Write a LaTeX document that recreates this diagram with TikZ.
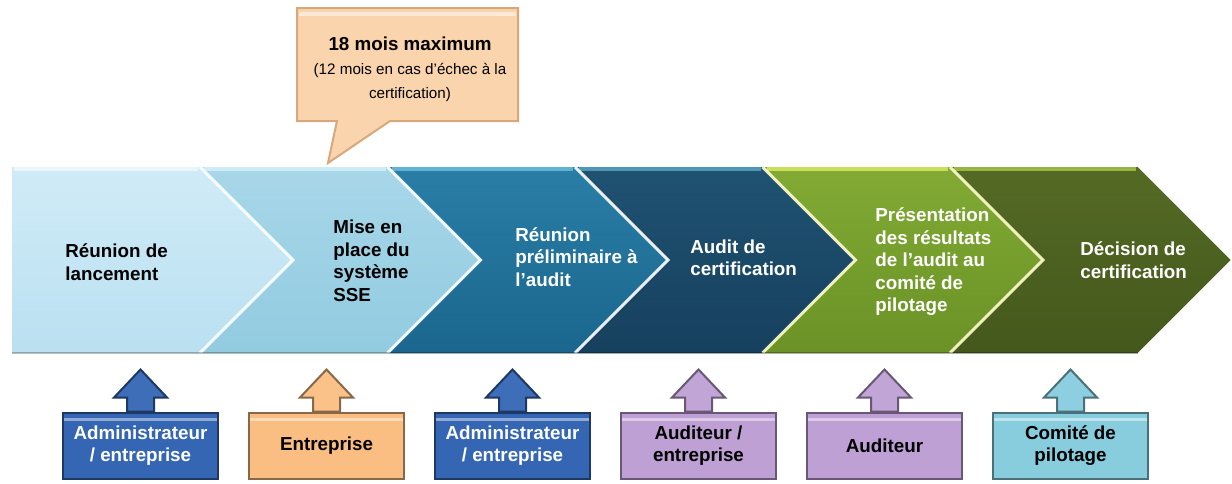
\documentclass[tikz,border=0pt]{standalone}
\usepackage{fontspec}
\setmainfont{Liberation Sans}
\usepackage{tikz}
\usetikzlibrary{calc,positioning}
\definecolor{chA}{RGB}{186,224,241}
\definecolor{chAt}{RGB}{208,235,247}
\definecolor{chB}{RGB}{146,203,224}
\definecolor{chBt}{RGB}{168,215,233}
\definecolor{chC}{RGB}{26,102,142}
\definecolor{chCt}{RGB}{42,126,166}
\definecolor{chD}{RGB}{22,64,94}
\definecolor{chDt}{RGB}{32,82,114}
\definecolor{chE}{RGB}{106,146,38}
\definecolor{chEt}{RGB}{130,170,52}
\definecolor{chF}{RGB}{68,88,28}
\definecolor{chFt}{RGB}{84,106,36}
\definecolor{hiA}{RGB}{235,246,251}
\definecolor{hiB}{RGB}{205,236,246}
\definecolor{hiC}{RGB}{96,178,208}
\definecolor{hiD}{RGB}{78,150,182}
\definecolor{hiE}{RGB}{200,222,92}
\definecolor{hiF}{RGB}{150,182,70}
\definecolor{admin}{RGB}{52,102,180}
\definecolor{entr}{RGB}{250,190,130}
\definecolor{audit}{RGB}{190,160,212}
\definecolor{comite}{RGB}{135,205,222}
\definecolor{bulle}{RGB}{250,212,172}
\definecolor{bullebord}{RGB}{214,168,124}
\newcommand{\monte}[2]{%
  \coordinate (#1t) at ($(#1.north)+(0,-42)$);
  \draw[fleche=#2] ($(#1.north)+(-13.5,0)$) -- ($(#1t)+(-13.5,28)$) -- ($(#1t)+(-26.5,28)$) -- (#1t)
    -- ($(#1t)+(26.5,28)$) -- ($(#1t)+(13.5,28)$) -- ($(#1.north)+(13.5,0)$) -- cycle;}

\begin{document}
\begin{tikzpicture}
		[x=0.5pt,y=-0.5pt,
		etape/.style={anchor=west,align=left,inner sep=0pt,
			font=\bfseries\fontsize{9.4}{11.25}\selectfont},
		acteur/.style={draw=#1!55!black,fill=#1,line width=1pt,
			minimum width=77.5pt,minimum height=33pt,inner sep=0pt,align=center,
			font=\bfseries\fontsize{9.4}{11}\selectfont,
			path picture={\draw[white,opacity=.45,line width=1.5pt]
				([yshift=-3.5pt]path picture bounding box.north west) --
				([yshift=-3.5pt]path picture bounding box.north east);}},
		fleche/.style={draw=#1!55!black,fill=#1!95!white,line width=1pt,line join=miter},
		seam/.style={#1,line width=1.5pt,opacity=.9}]
		\useasboundingbox (0,0) rectangle (1232,483);
		%---------------------chevrons------------
		\path[top color=chAt,bottom color=chA] (12,167) -- (200,167) -- (293,260) -- (200,353) -- (12,353) -- cycle;
		\draw[hiA,line width=2pt] (14,168.5) -- (198,168.5);
		\foreach \xr/\col/\hi/\sm in {387.5/chB/hiB/white,575/chC/hiC/white,762.5/chD/hiD/white,
			950/chE/hiE/white!80!yellow,1137.5/chF/hiF/white!80!yellow}{
			\pgfmathsetmacro{\xl}{\xr-187.5}
			\path[top color=\col t,bottom color=\col] (\xl,167) -- (\xr,167) -- (\xr+93,260) -- (\xr,353) -- (\xl,353) -- (\xl+93,260) -- cycle;
			\draw[\hi,line width=2pt] (\xl+4,168.5) -- (\xr-2,168.5);
			\draw[seam=\sm] (\xl,167) -- (\xl+93,260) -- (\xl,353);
		}
		\draw[black,opacity=.25,line width=1pt] (12,353) -- (1137.5,353);
		%---------------------textes------------
		\node[etape] (e1) at (65,262) {Réunion de\\lancement};
		\node[etape] (e2) at (333,261) {Mise en\\place du\\système\\SSE};
		\node[etape,white] (e3) at (515,257) {Réunion\\préliminaire à\\l’audit};
		\node[etape,white] (e4) at (690,258) {Audit de\\certification};
		\node[etape,white] (e5) at (875,262) {Présentation\\des résultats\\de l’audit au\\comité de\\pilotage};
		\node[etape,white] (e6) at (1080,260) {Décision de\\certification};
		%---------------------bulle------------
		\draw[fill=bulle,draw=bullebord,line width=1pt,line join=miter]
		(297,8) -- (518,8) -- (518,121) -- (390,121) -- (328,163) -- (337,121) -- (297,121) -- cycle;
		\draw[white,opacity=.5,line width=2pt] (299,14) -- (516,14);
		\node[align=center,inner sep=0pt] (duree) at (410,69)
		{{\bfseries\fontsize{9.4}{11.5}\selectfont 18 mois maximum}\\
			\fontsize{7.6}{11.5}\selectfont (12 mois en cas d’échec à la\\
			\fontsize{7.6}{11.5}\selectfont certification)};
		%---------------------acteurs------------
		\node[acteur=admin,text=white] (a1) at (140.5,445.5) {Administrateur\\/ entreprise};
		\node[acteur=entr] (a2) at (326.5,445.5) {Entreprise};
		\node[acteur=admin,text=white] (a3) at (512.5,445.5) {Administrateur\\/ entreprise};
		\node[acteur=audit] (a4) at (698.5,445.5) {Auditeur /\\entreprise};
		\node[acteur=audit] (a5) at (884.5,445.5) {Auditeur};
		\node[acteur=comite] (a6) at (1070.5,445.5) {Comité de\\pilotage};
		\monte{a1}{admin}
		\monte{a2}{entr}
		\monte{a3}{admin}
		\monte{a4}{audit}
		\monte{a5}{audit}
		\monte{a6}{comite}
\end{tikzpicture}
\end{document}
